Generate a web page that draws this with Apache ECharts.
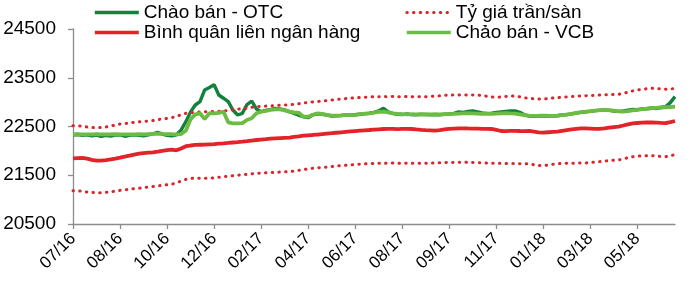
<!DOCTYPE html>
<html>
<head>
<meta charset="utf-8">
<script src="https://cdn.jsdelivr.net/npm/echarts@6/dist/echarts.min.js"></script>
<style>
html,body{margin:0;padding:0;background:#fff;}
#chart{width:700px;height:297px;}
</style>
</head>
<body>
<div id="chart"></div>
<script>
// Tick labels shown every 10 points on the category axis
const tickLabels = ['07/16','08/16','10/16','12/16','02/17','04/17','06/17','08/17','09/17','11/17','01/18','03/18','05/18'];

const otc = [22330,22335,22320,22330,22310,22325,22300,22320,22305,22325,
22330,22300,22320,22330,22320,22310,22330,22350,22381,22345,
22320,22310,22330,22430,22600,22800,22941,23010,23250,23300,
23360,23146,23080,23010,22839,22736,22770,22950,23023,22860,
22804,22830,22850,22873,22860,22840,22804,22770,22730,22700,
22681,22740,22760,22750,22735,22715,22720,22725,22735,22730,
22740,22750,22760,22771,22790,22820,22873,22800,22770,22750,
22745,22760,22745,22740,22748,22745,22740,22745,22740,22750,
22760,22770,22800,22790,22810,22818,22800,22780,22770,22775,
22790,22800,22810,22820,22818,22790,22740,22715,22710,22715,
22712,22718,22715,22720,22735,22745,22760,22775,22790,22800,
22810,22825,22830,22835,22830,22815,22810,22820,22835,22850,
22845,22860,22865,22880,22870,22890,22905,22990,23112];

const interbank = [21848,21852,21855,21840,21815,21800,21799,21810,21825,21842,
21860,21880,21902,21925,21942,21952,21962,21971,21985,22000,
22015,22025,22012,22050,22095,22110,22121,22126,22130,22135,
22140,22148,22155,22163,22172,22180,22189,22200,22212,22223,
22232,22240,22250,22258,22263,22268,22271,22285,22298,22312,
22320,22326,22335,22344,22353,22362,22372,22381,22390,22398,
22406,22414,22421,22428,22436,22443,22449,22452,22450,22448,
22452,22450,22449,22440,22432,22425,22420,22415,22425,22440,
22452,22458,22462,22463,22460,22458,22455,22452,22450,22449,
22430,22408,22405,22410,22412,22408,22405,22408,22395,22380,
22374,22382,22390,22395,22410,22425,22440,22452,22460,22463,
22458,22452,22450,22462,22475,22487,22497,22520,22545,22566,
22572,22578,22582,22586,22580,22574,22570,22590,22613];

const ceiling = [22517,22515,22505,22490,22478,22476,22478,22490,22510,22530,
22551,22560,22572,22585,22596,22605,22613,22622,22640,22655,
22668,22681,22710,22740,22771,22785,22792,22797,22802,22806,
22810,22814,22818,22830,22845,22855,22862,22880,22895,22907,
22912,22918,22924,22930,22935,22940,22943,22955,22968,22982,
22995,23005,23012,23022,23032,23042,23055,23064,23072,23080,
23088,23095,23100,23106,23110,23112,23115,23110,23118,23112,
23108,23115,23112,23110,23114,23112,23118,23120,23130,23140,
23146,23145,23148,23144,23146,23148,23146,23135,23120,23105,
23099,23105,23115,23122,23125,23110,23090,23078,23070,23066,
23064,23075,23085,23090,23100,23108,23115,23122,23128,23132,
23136,23140,23145,23150,23154,23157,23160,23180,23205,23230,
23249,23262,23275,23284,23280,23272,23265,23262,23290];

const floor = [21184,21180,21170,21155,21145,21143,21143,21148,21160,21175,
21190,21200,21212,21224,21233,21245,21258,21270,21282,21294,
21305,21315,21345,21380,21415,21435,21438,21440,21440,21441,
21448,21460,21471,21480,21490,21500,21510,21520,21530,21540,
21545,21550,21555,21560,21565,21570,21573,21585,21600,21615,
21630,21643,21652,21660,21668,21678,21688,21697,21705,21712,
21720,21727,21733,21738,21742,21745,21748,21744,21750,21746,
21742,21748,21745,21743,21747,21745,21748,21750,21755,21760,
21762,21764,21766,21766,21764,21762,21760,21756,21750,21746,
21745,21745,21742,21740,21740,21738,21735,21732,21715,21700,
21697,21710,21725,21738,21742,21745,21746,21748,21750,21752,
21760,21770,21780,21790,21800,21807,21813,21835,21860,21881,
21890,21897,21900,21903,21895,21885,21880,21910,21915];

const vcb = [22340,22342,22340,22338,22340,22342,22340,22338,22340,22342,
22340,22340,22338,22340,22342,22340,22345,22350,22352,22348,
22345,22342,22340,22345,22420,22650,22750,22771,22650,22771,
22771,22780,22804,22586,22566,22566,22570,22634,22668,22771,
22804,22820,22840,22853,22850,22830,22804,22790,22780,22702,
22700,22740,22771,22760,22740,22722,22722,22730,22740,22735,
22740,22755,22765,22771,22785,22800,22804,22790,22770,22757,
22752,22750,22748,22750,22752,22750,22748,22750,22750,22752,
22755,22760,22765,22770,22772,22770,22765,22760,22758,22760,
22765,22770,22772,22768,22765,22750,22735,22722,22720,22722,
22725,22722,22720,22725,22740,22745,22760,22780,22795,22804,
22815,22825,22835,22839,22835,22825,22810,22805,22815,22830,
22840,22855,22865,22873,22880,22890,22895,22900,22907];

const yTicks = [20500, 21500, 22500, 23500, 24500];

const categories = otc.map((_, i) => i % 10 === 0 ? tickLabels[i / 10] : tickLabels[Math.floor(i / 10)] + '+' + (i % 10));

const FONT = '"Liberation Sans", Arial, sans-serif';
const DOT = { color: '#d9262c', width: 3, type: [0.5, 6.2], cap: 'round' };

const legendBase = {
  orient: 'vertical', top: 3, padding: 0, itemWidth: 44, itemHeight: 14, itemGap: 1,
  itemStyle: { opacity: 0, borderWidth: 0 },
  lineStyle: { width: 3.6 },
  textStyle: { fontFamily: FONT, fontSize: 19, color: '#000', padding: [0, 0, 0, 0] }
};

const chart = echarts.init(document.getElementById('chart'), null, { renderer: 'canvas' });
chart.setOption({
  animation: false,
  backgroundColor: '#fff',
  grid: { left: 73, right: 25, top: 29, bottom: 73, containLabel: false },
  legend: [
    Object.assign({}, legendBase, { left: 93, data: ['Chào bán - OTC', 'Bình quân liên ngân hàng'] }),
    Object.assign({}, legendBase, { left: 405, data: [
      { name: 'Tỷ giá trần/sàn', lineStyle: { width: 3 } },
      'Chảo bán - VCB'
    ] })
  ],
  xAxis: {
    type: 'category', data: categories, boundaryGap: false,
    axisLine: { lineStyle: { color: '#8c8c8c', width: 1.3 } },
    axisTick: { show: true, interval: 9, length: 5, lineStyle: { color: '#8c8c8c', width: 1.3 } },
    axisLabel: { interval: 9, rotate: 45, margin: 12, fontFamily: FONT, fontSize: 17, color: '#000' },
    splitLine: { show: false }
  },
  yAxis: {
    type: 'value', min: yTicks[0], max: yTicks[yTicks.length - 1], interval: yTicks[1] - yTicks[0],
    axisLine: { show: true, lineStyle: { color: '#8c8c8c', width: 1.3 } },
    axisTick: { show: true, length: 5, lineStyle: { color: '#8c8c8c', width: 1.3 } },
    axisLabel: { margin: 17, fontFamily: FONT, fontSize: 19, color: '#000', formatter: v => String(v) },
    splitLine: { show: false }
  },
  series: [
    { name: 'Chào bán - OTC', type: 'line', data: otc, symbol: 'none', z: 2,
      lineStyle: { color: '#11813b', width: 3.4 }, itemStyle: { color: '#11813b' } },
    { name: 'Tỷ giá trần/sàn', type: 'line', data: ceiling, symbol: 'none', z: 3,
      lineStyle: DOT, itemStyle: { color: DOT.color } },
    { name: 'Tỷ giá trần/sàn', type: 'line', data: floor, symbol: 'none', z: 3,
      lineStyle: DOT, itemStyle: { color: DOT.color } },
    { name: 'Bình quân liên ngân hàng', type: 'line', data: interbank, symbol: 'none', z: 3,
      lineStyle: { color: '#e2242a', width: 3.8 }, itemStyle: { color: '#e2242a' } },
    { name: 'Chảo bán - VCB', type: 'line', data: vcb, symbol: 'none', z: 4,
      lineStyle: { color: '#6cbb43', width: 3.8 }, itemStyle: { color: '#6cbb43' } }
  ]
});
</script>
</body>
</html>
